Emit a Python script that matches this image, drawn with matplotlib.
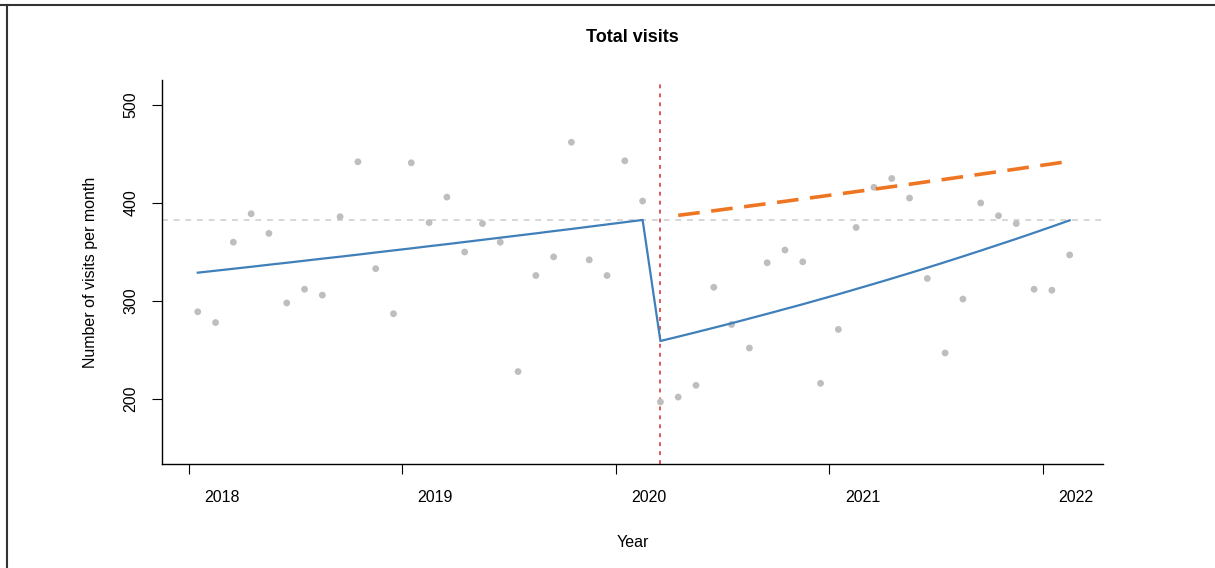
import matplotlib
matplotlib.use("Agg")
import matplotlib.pyplot as plt
from matplotlib.lines import Line2D
from matplotlib.transforms import ScaledTranslation

plt.rcParams["font.family"] = ["Liberation Sans", "DejaVu Sans"]

# monthly visits, Jan 2018 .. Feb 2022
visits = [289, 278, 360, 389, 369, 298, 312, 306, 386, 442, 333, 287, 441,
          380, 406, 350, 379, 360, 228, 326, 345, 462, 342, 326, 443, 402,
          197, 202, 214, 314, 276, 252, 339, 352, 340, 216, 271, 375, 416,
          425, 405, 323, 247, 302, 400, 387, 379, 312, 311, 347]

# segmented model fit (pre period, then post period)
fitted = [328.9, 330.9, 332.9, 334.9, 337.0, 339.0, 341.1, 343.2, 345.2,
          347.3, 349.5, 351.6, 353.7, 355.9, 358.0, 360.2, 362.4, 364.6,
          366.8, 369.0, 371.3, 373.5, 375.8, 378.1, 380.4, 382.7,
          259.2, 263.6, 268.1, 272.7, 277.3, 282.1, 286.9, 291.8, 296.7,
          301.8, 306.9, 312.2, 317.5, 322.9, 328.4, 334.0, 339.7, 345.5,
          351.4, 357.4, 363.4, 369.6, 375.9, 382.3]

# counterfactual: pre-period trend carried on after the break
counterfactual = [387.4, 389.7, 392.1, 394.5, 396.9, 399.3, 401.7, 404.2,
                  406.6, 409.1, 411.6, 414.1, 416.6, 419.1, 421.7, 424.2,
                  426.8, 429.4, 432.0, 434.6, 437.3, 439.9, 442.6]

break_month = 26          # index of first month after the intervention
baseline = 382.7          # level reached at the end of the pre period
year_ticks = [2018, 2019, 2020, 2021, 2022]

months = [2018 + (i + 0.5) / 12 for i in range(len(visits))]
cf_months = months[len(months) - len(counterfactual):]

fig = plt.figure(figsize=(12.15, 5.68), dpi=100)
ax = fig.add_axes([0.1333, 0.1831, 0.7745, 0.6761])

ax.scatter(months, visits, s=24, color="#BEBEBE", edgecolors="none", zorder=2)
ax.axhline(baseline, color="#D6D6D6", lw=1.4, dashes=(3, 3), zorder=1)
ax.axvline(months[break_month], color="#DB5A56", lw=1.4, dashes=(2, 2.6), zorder=1)
ax.plot(months, fitted, color="#3F7FBA", lw=1.6, zorder=3)
ax.plot(cf_months, counterfactual, color="#EE7623", lw=2.6, dashes=(6, 3.2),
        zorder=3)

ax.set_xlim(2017.874, 2022.281)
ax.set_ylim(133.7, 525.5)

ax.set_xticks(year_ticks)
ax.set_xticklabels([str(y) for y in year_ticks])
ax.set_yticks([200, 300, 400, 500])
ax.set_yticklabels(["200", "300", "400", "500"], rotation=90, va="center")
ax.tick_params(axis="both", length=7, width=0.8, labelsize=11.5, pad=12)
ax.tick_params(axis="y", pad=10)
for lab in ax.get_xticklabels():
    lab.set_transform(lab.get_transform() +
                      ScaledTranslation(0.33, 0, fig.dpi_scale_trans))

for side in ["top", "right"]:
    ax.spines[side].set_visible(False)
for side in ["left", "bottom"]:
    ax.spines[side].set_linewidth(1.0)

ax.set_title("Total visits", fontsize=13, fontweight="bold", pad=27.5)
ax.set_xlabel("Year", fontsize=11.5, labelpad=21)
ax.set_ylabel("Number of visits per month", fontsize=11.5, labelpad=18.5)

# frame lines along the top and left edge of the figure
fig.add_artist(Line2D([0, 1], [1 - 5 / 568, 1 - 5 / 568], color="#333333",
                      lw=1.5, transform=fig.transFigure))
fig.add_artist(Line2D([7 / 1215, 7 / 1215], [0, 1 - 5 / 568], color="#333333",
                      lw=1.5, transform=fig.transFigure))

fig.savefig("out.png", dpi=100)
